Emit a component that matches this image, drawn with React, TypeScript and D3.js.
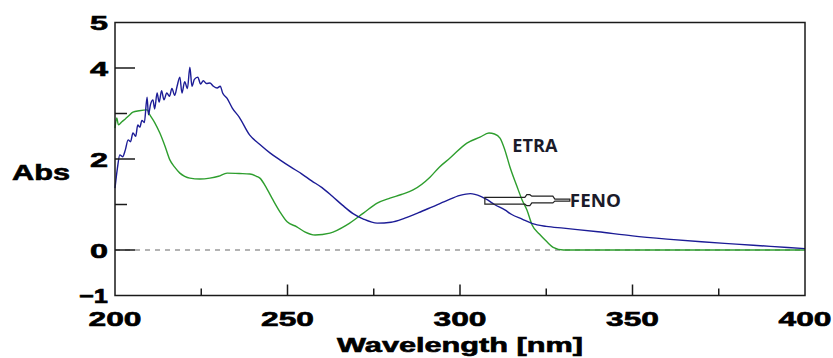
import React, { useMemo } from 'react';
import * as d3 from 'd3';

// FENO (blue) spectrum
const fenoWl = [
  200, 200.7, 201.4, 202.2, 203, 203.8, 204.5, 205.2, 206, 206.6, 207.2, 207.8, 208.5, 209.3, 209.7,
  210.3, 211, 211.5, 212.2, 212.8, 213.5, 214.2, 215, 215.8, 216.5, 217.3, 218, 218.8, 219.4, 220.2,
  221, 221.7, 222.3, 223, 224, 224.8, 225.6, 226.5, 227.5, 228.5, 229.6, 230.5, 231.2, 232.5, 234,
  236, 239, 242, 245, 248, 251, 254, 257, 260, 263, 266, 269, 272, 276, 280, 284, 288, 292, 296, 300,
  303, 306, 308, 310, 313, 315, 318, 321, 325, 330, 340, 350, 360, 370, 380, 390, 400,
];
const fenoAbs = [
  1.36, 1.8, 2.09, 2.05, 2.2, 2.42, 2.38, 2.57, 2.5, 2.75, 2.7, 2.85, 2.8, 3.36, 2.97,
  3.2, 3.3, 3.1, 3.45, 3.25, 3.5, 3.3, 3.45, 3.38, 3.55, 3.4, 3.6, 3.8, 3.45, 3.7,
  3.55, 4.02, 3.6, 3.75, 3.8, 3.65, 3.72, 3.66, 3.67, 3.6, 3.56, 3.6, 3.45, 3.33, 3.12,
  2.92, 2.53, 2.32, 2.13, 1.97, 1.82, 1.68, 1.52, 1.37, 1.18, 0.98, 0.8, 0.68, 0.59, 0.61, 0.7, 0.82, 0.95, 1.08, 1.2,
  1.24, 1.18, 1.1, 1.0, 0.88, 0.78, 0.68, 0.58, 0.52, 0.48, 0.4, 0.31, 0.24, 0.18, 0.13, 0.08, 0.03,
];

// ETRA (green) spectrum
const etraWl = [
  200, 200.5, 201, 202, 203, 204, 205.2, 207, 209.3, 210.1, 211.5, 213, 214.5, 215.9, 217.3, 218.8,
  220.2, 221.7, 224.6, 227.5, 230, 232.5, 236, 239.1, 241, 242, 244, 245.8, 247.8, 249.9, 252.7, 255,
  258, 262.3, 267.2, 272, 276, 279.7, 283, 286.4, 291.3, 294, 297.1, 302, 305.8, 308.4, 310, 311.6,
  313, 314.5, 316.5, 318, 319.4, 320.9, 323, 325.2, 327, 330, 400,
];
const etraAbs = [
  2.68, 2.9, 2.75, 2.82, 2.88, 2.95, 3.03, 3.06, 3.08, 2.97, 2.8, 2.57, 2.28, 1.98, 1.82, 1.69,
  1.62, 1.58, 1.56, 1.58, 1.62, 1.69, 1.68, 1.67, 1.62, 1.58, 1.35, 1.1, 0.84, 0.62, 0.51, 0.4,
  0.33, 0.37, 0.55, 0.81, 1.03, 1.14, 1.22, 1.32, 1.6, 1.82, 2.02, 2.35, 2.48, 2.57, 2.55, 2.46,
  2.2, 1.82, 1.4, 1.1, 0.88, 0.55, 0.35, 0.18, 0.06, 0, 0,
];

const xTickLabels = [200, 250, 300, 350, 400];
const xMinorTicks = [225, 275, 325, 375];
const yTickLabels = [5, 4, 2, 0, -1];
const yMajorTicks = [0, 2, 4];
const yMinorTicks = [1, 3];

// annotation anchors in data units
const etraLabel = { wl: 321.7, abs: 2.15 };
const fenoArrow = { wl: 307.2, abs: 1.08 };

const W = 833;
const H = 358;
const margin = { left: 115, right: 28, top: 22.5, bottom: 62.5 };
const labelFont = '"Liberation Sans", Arial, sans-serif';

type Pt = { x: number; y: number };

const App: React.FC = () => {
  const x = useMemo(() => d3.scaleLinear().domain([200, 400]).range([margin.left, W - margin.right]), []);
  const y = useMemo(() => d3.scaleLinear().domain([-1, 5]).range([H - margin.bottom, margin.top]), []);

  const line = d3.line<Pt>().x(d => x(d.x)).y(d => y(d.y)).curve(d3.curveMonotoneX);
  const feno = fenoWl.map((w, i) => ({ x: w, y: fenoAbs[i] }));
  const etra = etraWl.map((w, i) => ({ x: w, y: etraAbs[i] }));

  const x0 = x(200);
  const x1 = x(400);
  const yTop = y(5);
  const yBot = y(-1);

  // arrow outline, offsets from anchor
  const ax = x(fenoArrow.wl);
  const ay = y(fenoArrow.abs);
  const arrowPts: [number, number][] = [
    [0, -3.4], [40, -3.4], [42, -6.2], [45, -6.2], [47, -4.7], [68, -4.7], [70, -1.7], [85, -1.7],
    [85, 0.3], [70, 0.3], [68, 2], [47, 2], [45, 4.8], [42, 4.8], [40, 3.3], [0, 3.3],
  ];
  const arrowPath = 'M' + arrowPts.map(([dx, dy]) => `${ax + dx},${ay + dy}`).join('L') + 'Z';

  const heavy = { stroke: '#000', strokeWidth: 0.6 };

  return (
    <svg width={W} height={H} style={{ position: 'absolute', left: 0, top: 0, background: '#fff' }}>
      {/* zero line */}
      <line x1={x0} x2={x1} y1={y(0)} y2={y(0)} stroke="#9a9a9a" strokeWidth={1.5} strokeDasharray="5,5" />

      {/* spectra */}
      <path d={line(etra) || ''} fill="none" stroke="#2e9e2e" strokeWidth={1.4} />
      <path d={line(feno) || ''} fill="none" stroke="#1c1c96" strokeWidth={1.4} />

      {/* frame */}
      <rect x={x0} y={yTop} width={x1 - x0} height={yBot - yTop} fill="none" stroke="#1a1a1a" strokeWidth={1.5} />

      {/* y ticks */}
      {yMajorTicks.map(t => (
        <line key={`ym${t}`} x1={x0} x2={x0 + 20} y1={y(t)} y2={y(t)} stroke="#1a1a1a" strokeWidth={1.5} />
      ))}
      {yMinorTicks.map(t => (
        <line key={`yn${t}`} x1={x0} x2={x0 + 12} y1={y(t)} y2={y(t)} stroke="#1a1a1a" strokeWidth={1.5} />
      ))}
      {yTickLabels.map(t => (
        <text
          key={`yl${t}`}
          x={x0 - 7}
          y={y(t) + 7.5}
          textAnchor="end"
          fontFamily={labelFont}
          fontWeight="bold"
          fontSize={20}
          textLength={t < 0 ? 29 : 18}
          lengthAdjust="spacingAndGlyphs"
          {...heavy}
        >
          {t < 0 ? '\u22121' : t}
        </text>
      ))}

      {/* x ticks */}
      {xTickLabels.slice(1, -1).map(t => (
        <line key={`xm${t}`} x1={x(t)} x2={x(t)} y1={yBot} y2={yBot - 11} stroke="#1a1a1a" strokeWidth={1.5} />
      ))}
      {xMinorTicks.map(t => (
        <line key={`xn${t}`} x1={x(t)} x2={x(t)} y1={yBot} y2={yBot - 7} stroke="#1a1a1a" strokeWidth={1.5} />
      ))}
      {xTickLabels.map(t => (
        <text
          key={`xl${t}`}
          x={x(t)}
          y={yBot + 30}
          textAnchor="middle"
          fontFamily={labelFont}
          fontWeight="bold"
          fontSize={20}
          textLength={53}
          lengthAdjust="spacingAndGlyphs"
          {...heavy}
        >
          {t}
        </text>
      ))}

      {/* axis titles */}
      <text
        x={12}
        y={180}
        fontFamily={labelFont}
        fontWeight="bold"
        fontSize={22}
        textLength={58}
        lengthAdjust="spacingAndGlyphs"
        {...heavy}
      >
        Abs
      </text>
      <text
        x={337}
        y={352}
        fontFamily={labelFont}
        fontWeight="bold"
        fontSize={20}
        textLength={246}
        lengthAdjust="spacingAndGlyphs"
        {...heavy}
      >
        Wavelength [nm]
      </text>

      {/* annotations */}
      <text
        x={x(etraLabel.wl)}
        y={y(etraLabel.abs)}
        textAnchor="middle"
        fontFamily='"Open Sans", "Noto Sans", sans-serif'
        fontWeight="bold"
        fontSize={17}
        fill="#1b1b2a"
        textLength={45}
        lengthAdjust="spacingAndGlyphs"
      >
        ETRA
      </text>
      <path d={arrowPath} fill="none" stroke="#222" strokeWidth={1.2} />
      <text
        x={ax + 85}
        y={ay + 6.5}
        fontFamily='"Open Sans", "Noto Sans", sans-serif'
        fontWeight="bold"
        fontSize={17}
        fill="#1b1b2a"
        textLength={51}
        lengthAdjust="spacingAndGlyphs"
      >
        FENO
      </text>
    </svg>
  );
};

export default App;
